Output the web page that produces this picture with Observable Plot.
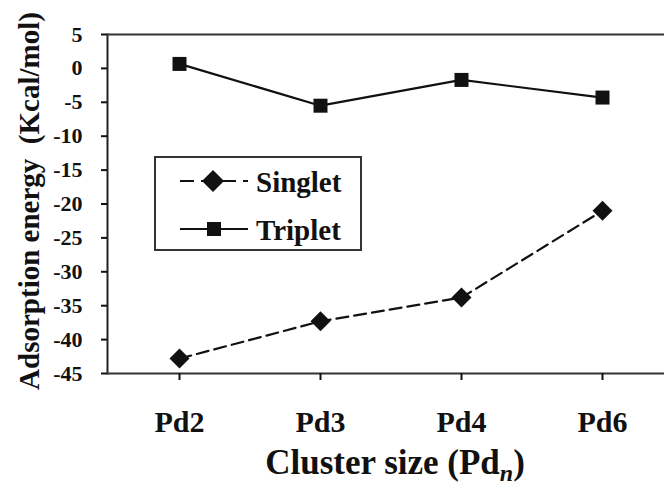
<!DOCTYPE html>
<html>
<head>
<meta charset="utf-8">
<script src="https://cdn.jsdelivr.net/npm/d3@7"></script>
<script src="https://cdn.jsdelivr.net/npm/@observablehq/plot@0.6"></script>
<style>
  html, body { margin: 0; padding: 0; background: #fff; }
  #wrap { position: relative; width: 664px; height: 486px; overflow: hidden; }
  #legend { position: absolute; left: 0; top: 0; }
</style>
</head>
<body>
<div id="wrap"></div>
<script>
const categories = ["Pd2", "Pd3", "Pd4", "Pd6"];
const singlet = [-42.8, -37.3, -33.8, -21.0];
const triplet = [0.66, -5.5, -1.7, -4.3];
const yTicks = [5, 0, -5, -10, -15, -20, -25, -30, -35, -40, -45];
const seriesNames = ["Singlet", "Triplet"];
const yTitle = "Adsorption energy  (Kcal/mol)";
const xTitle = "Cluster size (Pd";
const xTitleSub = "n";
const xTitleEnd = ")";

const singletData = categories.map((c, i) => ({cat: c, v: singlet[i]}));
const tripletData = categories.map((c, i) => ({cat: c, v: triplet[i]}));

const ink = "#111";
const font = "'Liberation Serif', 'Times New Roman', serif";

const chart = Plot.plot({
  width: 664,
  height: 486,
  marginLeft: 107,
  marginRight: 0,
  marginTop: 34,
  marginBottom: 113,
  style: {fontFamily: font, fontWeight: "bold", color: ink, background: "white", overflow: "hidden"},
  x: {type: "point", domain: categories, range: [108, 672]},
  y: {domain: [-45, 5]},
  marks: [
    Plot.frame({anchor: "left", stroke: "#222", strokeWidth: 2}),
    Plot.ruleY([yTicks[0], yTicks[yTicks.length - 1]], {stroke: "#333", strokeWidth: 2}),
    Plot.axisY({ticks: yTicks, tickFormat: d => String(d), tickSize: 6, tickPadding: 19, fontSize: 22, strokeWidth: 2, label: null}),
    Plot.axisX({tickSize: 7, tickPadding: 30, fontSize: 30, strokeWidth: 2, label: null}),
    Plot.line(singletData, {x: "cat", y: "v", stroke: ink, strokeWidth: 2.2, strokeDasharray: "12,6"}),
    Plot.line(tripletData, {x: "cat", y: "v", stroke: ink, strokeWidth: 2.2}),
    Plot.dot(singletData, {x: "cat", y: "v", symbol: "diamond2", r: 9, fill: ink, stroke: "none"}),
    Plot.dot(tripletData, {x: "cat", y: "v", symbol: "square", r: 7.9, fill: ink, stroke: "none"}),
    Plot.text([yTitle], {text: d => d, frameAnchor: "left", textAnchor: "middle", lineAnchor: "middle", dx: -78, dy: -3, rotate: -90, fontSize: 29, fill: ink}),
    Plot.text([xTitle], {text: d => d, frameAnchor: "bottom", textAnchor: "middle", lineAnchor: "middle", dx: 9, dy: 89.5, fontSize: 35, fill: ink})
  ]
});

// subscript italic n in the x title
chart.querySelectorAll("text").forEach(t => {
  if (t.textContent === xTitle) {
    t.textContent = "";
    const ns = "http://www.w3.org/2000/svg";
    const a = document.createElementNS(ns, "tspan"); a.textContent = xTitle;
    const b = document.createElementNS(ns, "tspan"); b.textContent = xTitleSub;
    b.setAttribute("font-style", "italic"); b.setAttribute("font-size", "24"); b.setAttribute("dy", "7");
    const c = document.createElementNS(ns, "tspan"); c.textContent = xTitleEnd;
    c.setAttribute("dy", "-7");
    t.append(a, b, c);
  }
  if (t.textContent === yTitle) t.style.whiteSpace = "pre";
});

const wrap = document.getElementById("wrap");
wrap.appendChild(chart);

// legend overlay
const ns = "http://www.w3.org/2000/svg";
const lg = document.createElementNS(ns, "svg");
lg.setAttribute("id", "legend");
lg.setAttribute("width", 664); lg.setAttribute("height", 486);
lg.style.position = "absolute"; lg.style.left = "0px"; lg.style.top = "0px";
lg.innerHTML = `
  <rect x="155" y="157" width="206" height="93" fill="white" stroke="#333" stroke-width="2"/>
  <line x1="180" y1="181" x2="248" y2="181" stroke="${ink}" stroke-width="2" stroke-dasharray="14,7"/>
  <polygon points="213,170 224,181 213,192 202,181" fill="${ink}"/>
  <line x1="180" y1="229" x2="248" y2="229" stroke="${ink}" stroke-width="2"/>
  <rect x="207" y="222" width="14" height="14" fill="${ink}"/>
  <text x="256" y="192" font-family="${font}" font-weight="bold" font-size="29" fill="${ink}">${seriesNames[0]}</text>
  <text x="256" y="240" font-family="${font}" font-weight="bold" font-size="29" fill="${ink}">${seriesNames[1]}</text>
`;
wrap.appendChild(lg);
</script>
</body>
</html>
